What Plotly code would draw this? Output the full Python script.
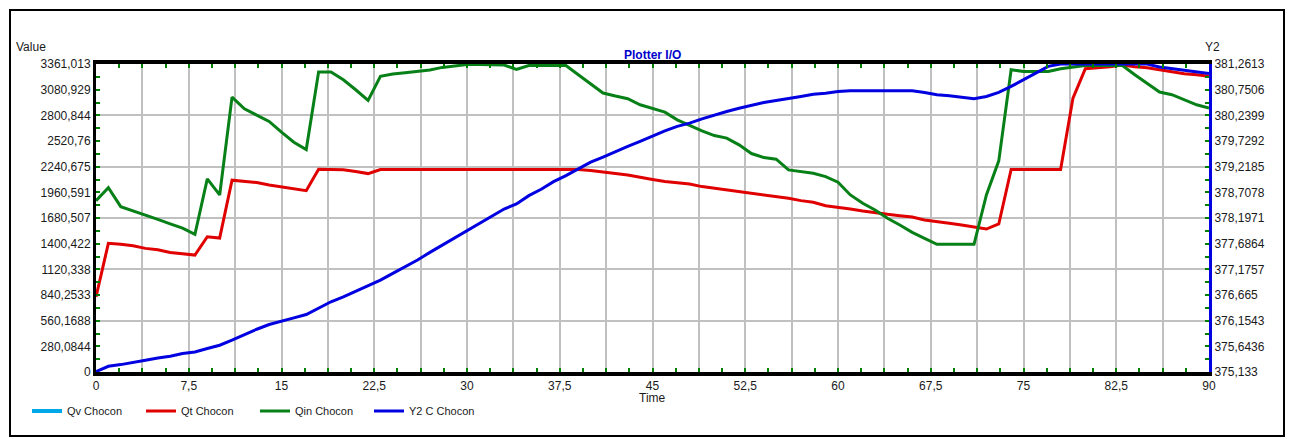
import plotly.graph_objects as go

# ---------------- data ----------------
time = list(range(0, 91))

qt_chocon = [820, 1404, 1393, 1378, 1349, 1334, 1305, 1287, 1276, 1476,
             1462, 2093, 2078, 2067, 2041, 2023, 1998, 1979, 2213, 2213,
             2206, 2187, 2165, 2210, 2210, 2210, 2210, 2210, 2210, 2210,
             2210, 2210, 2210, 2210, 2210, 2210, 2210, 2210, 2210, 2210,
             2200, 2180, 2165, 2150, 2121, 2100, 2078, 2063, 2052, 2023,
             2005, 1990, 1968, 1954, 1929, 1910, 1896, 1870, 1852, 1815,
             1801, 1779, 1757, 1743, 1721, 1706, 1691, 1659, 1644, 1622,
             1604, 1585, 1560, 1615, 2210, 2210, 2210, 2210, 2210, 2989,
             3310, 3320, 3330, 3350, 3330, 3320, 3299, 3273, 3255, 3244,
             3226]

qin_chocon = [1870, 2012, 1804, 1760, 1712, 1665, 1617, 1570, 1502, 2107,
              1932, 3000, 2872, 2807, 2734, 2617, 2508, 2427, 3274, 3274,
              3189, 3080, 2963, 3226, 3251, 3266, 3280, 3295, 3324, 3342,
              3355, 3355, 3355, 3350, 3302, 3345, 3345, 3345, 3345, 3244,
              3142, 3044, 3011, 2982, 2916, 2878, 2836, 2752, 2690, 2632,
              2580, 2552, 2479, 2384, 2340, 2322, 2205, 2187, 2169, 2132,
              2071, 1932, 1841, 1768, 1677, 1604, 1524, 1459, 1393, 1393,
              1393, 1393, 1932, 2304, 3299, 3280, 3280, 3280, 3310, 3330,
              3345, 3345, 3345, 3345, 3244, 3153, 3055, 3026, 2971, 2916,
              2880]

y2_c_chocon = [375.14, 375.247, 375.28, 375.33, 375.367, 375.41, 375.446, 375.50, 375.53, 375.60,
               375.665, 375.765, 375.88, 375.984, 376.078, 376.15, 376.21, 376.277, 376.397, 376.53,
               376.628, 376.74, 376.84, 376.96, 377.095, 377.226, 377.36, 377.513, 377.659, 377.79,
               377.938, 378.09, 378.243, 378.376, 378.476, 378.642, 378.77, 378.92, 379.04, 379.174,
               379.307, 379.41, 379.52, 379.62, 379.72, 379.83, 379.93, 380.02, 380.085, 380.17,
               380.25, 380.316, 380.38, 380.44, 380.496, 380.536, 380.57, 380.615, 380.66, 380.68,
               380.715, 380.73, 380.73, 380.73, 380.73, 380.73, 380.73, 380.695, 380.65, 380.63,
               380.60, 380.57, 380.615, 380.695, 380.815, 380.95, 381.08, 381.215, 381.26, 381.26,
               381.26, 381.26, 381.26, 381.26, 381.26, 381.26, 381.2, 381.17, 381.13, 381.1,
               381.07]

# listed in the legend, but no visible line in the reference
qv_chocon = [None] * len(time)

left_tick_labels = ["0", "280,0844", "560,1688", "840,2533", "1120,338", "1400,422",
                    "1680,507", "1960,591", "2240,675", "2520,76", "2800,844",
                    "3080,929", "3361,013"]
right_tick_labels = ["375,133", "375,6436", "376,1543", "376,665", "377,1757",
                     "377,6864", "378,1971", "378,7078", "379,2185", "379,7292",
                     "380,2399", "380,7506", "381,2613"]
x_tick_labels = ["0", "7,5", "15", "22,5", "30", "37,5", "45", "52,5", "60",
                 "67,5", "75", "82,5", "90"]

# ---------------- derived tick positions ----------------
def parse(s):
    return float(s.replace(",", "."))

left_vals = [parse(s) for s in left_tick_labels]
right_vals = [parse(s) for s in right_tick_labels]
x_label_vals = [parse(s) for s in x_tick_labels]

# vertical grid at every half label step, labels only on full steps
x_grid_vals, x_grid_text = [], []
for i, v in enumerate(x_label_vals):
    x_grid_vals.append(v)
    x_grid_text.append(x_tick_labels[i])
    if i < len(x_label_vals) - 1:
        x_grid_vals.append((v + x_label_vals[i + 1]) / 2)
        x_grid_text.append("")

FONT = "Liberation Sans, Arial, sans-serif"
GREEN_TICK = "#008000"
GRID = "#c0c0c0"

fig = go.Figure()
fig.add_trace(go.Scatter(x=time, y=qv_chocon, name="Qv Chocon", mode="lines",
                         line=dict(color="#00a8e8", width=4)))
fig.add_trace(go.Scatter(x=time, y=qt_chocon, name="Qt Chocon", mode="lines",
                         line=dict(color="#e00000", width=3)))
fig.add_trace(go.Scatter(x=time, y=qin_chocon, name="Qin Chocon", mode="lines",
                         line=dict(color="#088018", width=3)))
fig.add_trace(go.Scatter(x=time, y=y2_c_chocon, name="Y2 C Chocon", mode="lines",
                         line=dict(color="#0000e0", width=3), yaxis="y2"))
# carrier for the horizontal grid axis (no data)
fig.add_trace(go.Scatter(x=[None], y=[None], yaxis="y3", showlegend=False,
                         hoverinfo="skip", mode="lines"))

W, H = 1294, 439
L, R, T, B = 96, 85, 64, 67
pw, ph = W - L - R, H - T - B

def px_x(p):
    return (p - L) / pw

def px_y(p):
    return (H - B - p) / ph

tickfont = dict(family=FONT, size=12, color="#1a1a1a")

fig.update_layout(
    width=W, height=H, autosize=False,
    margin=dict(l=L, r=R, t=T, b=B, pad=0),
    paper_bgcolor="white", plot_bgcolor="white",
    font=dict(family=FONT, size=12, color="#1a1a1a"),
    showlegend=True,
    legend=dict(orientation="h", x=px_x(27), xanchor="left", y=px_y(411), yanchor="middle",
                font=dict(family=FONT, size=11, color="#1a1a1a"),
                entrywidth=69, entrywidthmode="pixels", bgcolor="rgba(0,0,0,0)",
                borderwidth=0, itemclick=False),
    xaxis=dict(range=[x_label_vals[0], x_label_vals[-1]], tickmode="array",
               tickvals=x_grid_vals, ticktext=x_grid_text,
               showgrid=True, gridcolor=GRID, gridwidth=2, zeroline=False,
               showline=True, linecolor="black", linewidth=4, mirror="allticks",
               ticks="inside", ticklen=4, tickwidth=2, tickcolor=GREEN_TICK,
               minor=dict(tick0=0, dtick=(x_label_vals[1] - x_label_vals[0]) / 4,
                          ticks="inside", ticklen=4, tickwidth=2,
                          tickcolor=GREEN_TICK, showgrid=False),
               tickfont=tickfont),
    yaxis=dict(range=[left_vals[0], left_vals[-1]], tickmode="array",
               tickvals=left_vals, ticktext=left_tick_labels,
               showgrid=False, zeroline=False,
               showline=True, linecolor="black", linewidth=3,
               ticks="inside", ticklen=4, tickwidth=2, tickcolor=GREEN_TICK,
               minor=dict(tick0=0, dtick=(left_vals[1] - left_vals[0]) / 2,
                          ticks="inside", ticklen=4, tickwidth=2,
                          tickcolor=GREEN_TICK, showgrid=False),
               tickfont=tickfont),
    yaxis2=dict(range=[right_vals[0], right_vals[-1]], overlaying="y", side="right",
                anchor="x", tickmode="array", tickvals=right_vals,
                ticktext=right_tick_labels, showgrid=False, zeroline=False,
                showline=True, linecolor="#0000e0", linewidth=3,
                ticks="inside", ticklen=4, tickwidth=2, tickcolor=GREEN_TICK,
                minor=dict(tick0=right_vals[0], dtick=(right_vals[1] - right_vals[0]) / 2,
                           ticks="inside", ticklen=4, tickwidth=2,
                           tickcolor=GREEN_TICK, showgrid=False),
                tickfont=tickfont),
    yaxis3=dict(range=[left_vals[0], left_vals[-1]], overlaying="y", anchor="x",
                side="left", tickmode="array", tickvals=left_vals[::2],
                showgrid=True, gridcolor=GRID, gridwidth=2, zeroline=False,
                showticklabels=False, ticks="", showline=False),
)

# outer frame
fig.add_shape(type="rect", xref="paper", yref="paper",
              x0=px_x(10), x1=px_x(1284), y0=px_y(436), y1=px_y(10),
              line=dict(color="black", width=2), fillcolor="rgba(0,0,0,0)")

fig.add_annotation(text="Plotter I/O", xref="paper", yref="paper", x=0.5, y=px_y(55),
                   xanchor="center", yanchor="middle", showarrow=False,
                   font=dict(family=FONT, size=12, color="#0000cc", weight="bold"))
fig.add_annotation(text="Value", xref="paper", yref="paper", x=px_x(14), y=px_y(47),
                   xanchor="left", yanchor="middle", showarrow=False,
                   font=dict(family=FONT, size=12, color="#1a1a1a"))
fig.add_annotation(text="Y2", xref="paper", yref="paper", x=px_x(1203), y=px_y(47),
                   xanchor="left", yanchor="middle", showarrow=False,
                   font=dict(family=FONT, size=12, color="#1a1a1a"))
fig.add_annotation(text="Time", xref="paper", yref="paper", x=0.5, y=px_y(398),
                   xanchor="center", yanchor="middle", showarrow=False,
                   font=dict(family=FONT, size=12, color="#1a1a1a"))

fig.write_html("out.html",
               config={"displayModeBar": False},
               post_script="document.body.style.margin='0';"
                           "document.body.style.overflow='hidden';")
